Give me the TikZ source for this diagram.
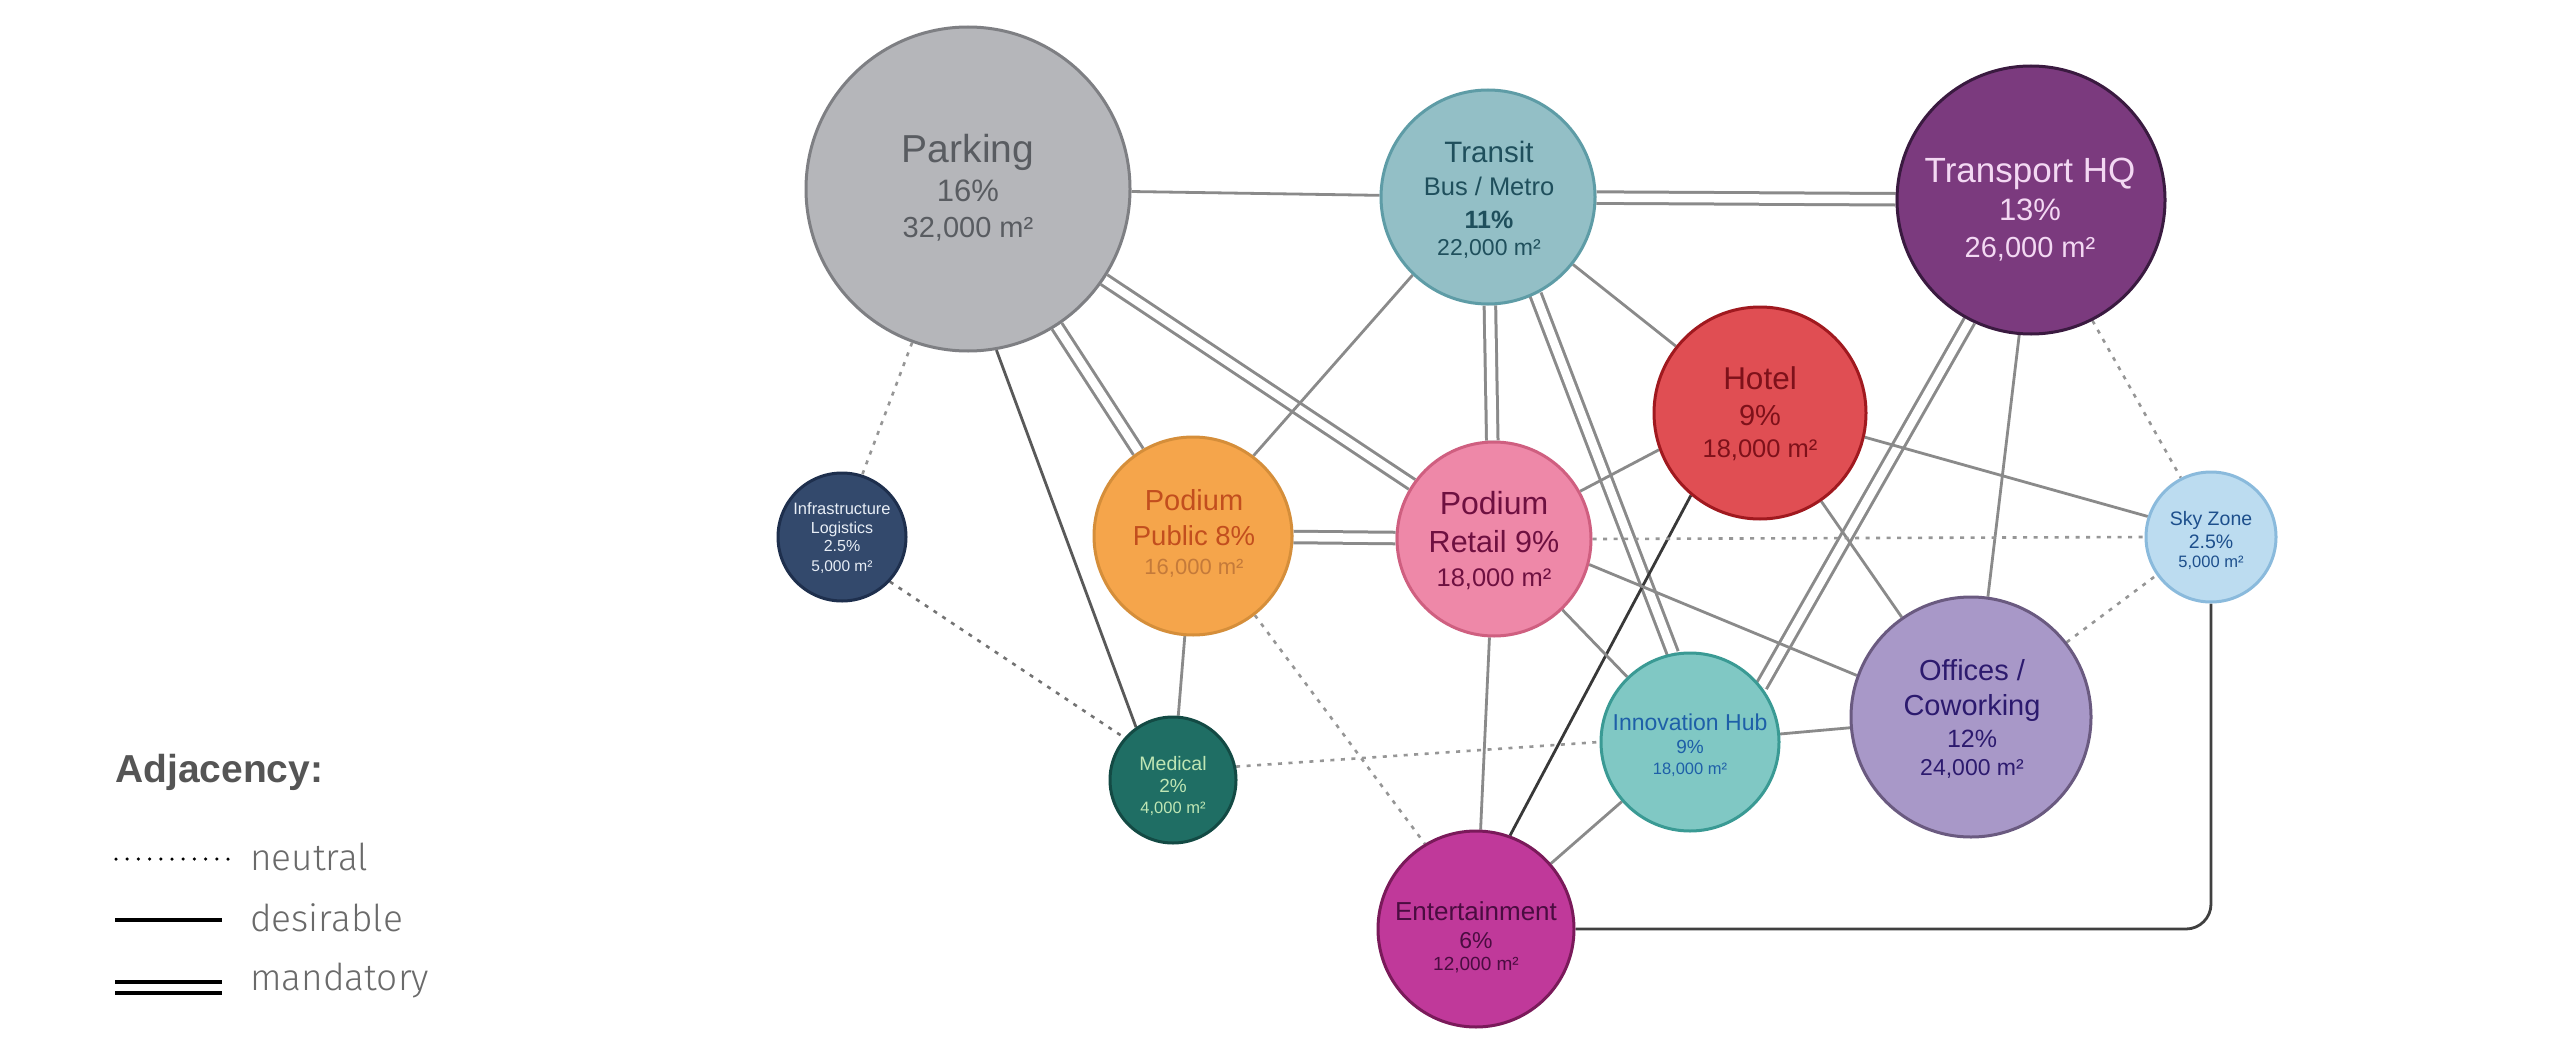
\documentclass[tikz,border=0pt]{standalone}
\usepackage{fontspec}
\setmainfont{Liberation Sans}
\newfontfamily\legfont{Fira Sans Light}
\usetikzlibrary{backgrounds}
\definecolor{parkfill}{HTML}{B5B6BA}\definecolor{parkdraw}{HTML}{7E7F83}\definecolor{parktxt}{HTML}{595C61}
\definecolor{trfill}{HTML}{93BFC6}\definecolor{trdraw}{HTML}{5E9CA6}\definecolor{trtxt}{HTML}{1F4F5C}
\definecolor{thqfill}{HTML}{7B3A7E}\definecolor{thqdraw}{HTML}{3A1A40}\definecolor{thqtxt}{HTML}{F3D8F3}
\definecolor{hotfill}{HTML}{E04E53}\definecolor{hotdraw}{HTML}{A0191F}\definecolor{hottxt}{HTML}{7E111A}
\definecolor{infill}{HTML}{33496C}\definecolor{indraw}{HTML}{1E2F4D}\definecolor{intxt}{HTML}{E8EEF6}
\definecolor{ppfill}{HTML}{F5A54B}\definecolor{ppdraw}{HTML}{D58E3A}\definecolor{pptxt}{HTML}{C24E1E}\definecolor{pptxtb}{HTML}{C47A3A}
\definecolor{prfill}{HTML}{EE88A8}\definecolor{prdraw}{HTML}{CF5F80}\definecolor{prtxt}{HTML}{6E1040}
\definecolor{medfill}{HTML}{1F6E64}\definecolor{meddraw}{HTML}{134A44}\definecolor{medtxt}{HTML}{BFE6B4}
\definecolor{entfill}{HTML}{C0399A}\definecolor{entdraw}{HTML}{7A1A5A}\definecolor{enttxt}{HTML}{4A0C40}
\definecolor{ihfill}{HTML}{80C8C4}\definecolor{ihdraw}{HTML}{3A9A94}\definecolor{ihtxt}{HTML}{1E5FA8}
\definecolor{offfill}{HTML}{A898C8}\definecolor{offdraw}{HTML}{6A5A80}\definecolor{offtxt}{HTML}{2C1A6E}
\definecolor{skyfill}{HTML}{BCDCF0}\definecolor{skydraw}{HTML}{8ABADC}\definecolor{skytxt}{HTML}{1D4F8C}
\definecolor{linegray}{HTML}{8A8A8A}\definecolor{dotgray}{HTML}{969696}
\definecolor{legtxt}{HTML}{555555}\definecolor{leglabel}{HTML}{6A6A6A}
\newcommand\ntext[6]{\node[anchor=base, inner sep=0pt, text=#5, font=\fontsize{#4}{#4}\selectfont] (#1) at (#2,#3) {#6};}
\tikzset{
  room/.style={circle, inner sep=0pt, line width=3pt, minimum size=#1},
  mand/.style={draw=linegray, line width=3pt, double=white, double distance=8.5pt},
  desir/.style={draw=linegray, line width=2.8pt},
  neut/.style={draw=dotgray, line width=2.6pt, dash pattern=on 4pt off 6.5pt},
}
\begin{document}
\begin{tikzpicture}[x=1pt,y=-1pt]
\useasboundingbox (0,0) rectangle (2560,1041);

% rooms
\node[room=324pt, fill=parkfill, draw=parkdraw] (park) at (968,189) {};
\node[room=214pt, fill=trfill, draw=trdraw] (transit) at (1488,197) {};
\node[room=268pt, fill=thqfill, draw=thqdraw] (thq) at (2031,200) {};
\node[room=212pt, fill=hotfill, draw=hotdraw] (hotel) at (1760,413) {};
\node[room=128pt, fill=infill, draw=indraw] (infra) at (842,537) {};
\node[room=198pt, fill=ppfill, draw=ppdraw] (pp) at (1193,536) {};
\node[room=194pt, fill=prfill, draw=prdraw] (pr) at (1494,539) {};
\node[room=126pt, fill=medfill, draw=meddraw] (med) at (1173,780) {};
\node[room=196pt, fill=entfill, draw=entdraw] (ent) at (1476,929) {};
\node[room=178pt, fill=ihfill, draw=ihdraw] (ih) at (1690,742) {};
\node[room=240pt, fill=offfill, draw=offdraw] (off) at (1971,717) {};
\node[room=130pt, fill=skyfill, draw=skydraw] (sky) at (2211,537) {};

% labels
\ntext{park1}{968}{162}{39}{parktxt}{Parking}
\ntext{park2}{968}{201}{31}{parktxt}{16\%}
\ntext{park3}{968}{237}{29}{parktxt}{32,000 m²}
\ntext{tr1}{1489}{162}{29.5}{trtxt}{Transit}
\ntext{tr2}{1489}{195}{25.5}{trtxt}{Bus / Metro}
\ntext{tr3}{1489}{228}{25}{trtxt}{\bfseries 11\%}
\ntext{tr4}{1489}{255}{23}{trtxt}{22,000 m²}
\ntext{thq1}{2030}{182}{35}{thqtxt}{Transport HQ}
\ntext{thq2}{2030}{220}{31}{thqtxt}{13\%}
\ntext{thq3}{2030}{257}{29}{thqtxt}{26,000 m²}
\ntext{hot1}{1760}{389}{31.5}{hottxt}{Hotel}
\ntext{hot2}{1760}{425}{29}{hottxt}{9\%}
\ntext{hot3}{1760}{457}{25.5}{hottxt}{18,000 m²}
\ntext{in1}{842}{514.5}{16.5}{intxt}{Infrastructure}
\ntext{in2}{842}{533}{16}{intxt}{Logistics}
\ntext{in3}{842}{551}{16}{intxt}{2.5\%}
\ntext{in4}{842}{571}{15.5}{intxt}{5,000 m²}
\ntext{pp1}{1194}{510}{29}{pptxt}{Podium}
\ntext{pp2}{1194}{545}{27.5}{pptxt}{Public 8\%}
\ntext{pp3}{1194}{574}{22}{pptxtb}{16,000 m²}
\ntext{pr1}{1494}{514}{32}{prtxt}{Podium}
\ntext{pr2}{1494}{552}{30.5}{prtxt}{Retail 9\%}
\ntext{pr3}{1494}{586}{25.5}{prtxt}{18,000 m²}
\ntext{med1}{1173}{770}{19.5}{medtxt}{Medical}
\ntext{med2}{1173}{792.5}{19}{medtxt}{2\%}
\ntext{med3}{1173}{813}{16.5}{medtxt}{4,000 m²}
\ntext{ent1}{1476}{920}{26}{enttxt}{Entertainment}
\ntext{ent2}{1476}{948}{23}{enttxt}{6\%}
\ntext{ent3}{1476}{970}{19}{enttxt}{12,000 m²}
\ntext{ih1}{1690}{730}{23}{ihtxt}{Innovation Hub}
\ntext{ih2}{1690}{753.5}{19}{ihtxt}{9\%}
\ntext{ih3}{1690}{774}{16.5}{ihtxt}{18,000 m²}
\ntext{off1}{1972}{680}{29}{offtxt}{Offices /}
\ntext{off2}{1972}{715}{29}{offtxt}{Coworking}
\ntext{off3}{1972}{747.5}{25}{offtxt}{12\%}
\ntext{off4}{1972}{775}{23}{offtxt}{24,000 m²}
\ntext{sky1}{2211}{525}{19.5}{skytxt}{Sky Zone}
\ntext{sky2}{2211}{548}{19.5}{skytxt}{2.5\%}
\ntext{sky3}{2211}{567.5}{16.5}{skytxt}{5,000 m²}

% connectors
\begin{scope}[on background layer]
  \fill[white] (0,0) rectangle (2560,1041);
  % mandatory
  \draw[mand] (park) -- (pp);
  \draw[mand] (park) -- (pr);
  \draw[mand] (transit) -- (thq);
  \draw[mand] (transit) -- (pr);
  \draw[mand] (transit.-64) -- (ih.101);
  \draw[mand] (pp) -- (pr);
  \draw[mand] (thq.-117) -- (ih.38);
  % desirable
  \draw[desir] (park) -- (transit);
  \draw[desir, draw=black!65] (park.-80) -- (med.125);
  \draw[desir] (transit.-134) -- (pp.53);
  \draw[desir] (transit) -- (hotel);
  \draw[desir] (pr.29) -- (hotel.200);
  \draw[desir] (hotel.-13) -- (sky.162);
  \draw[desir] (hotel) -- (off);
  \draw[desir, draw=black!78] (ent.70) -- (hotel.-130);
  \draw[desir] (thq.-95) -- (off.82);
  \draw[desir] (pr.-15) -- (off.160);
  \draw[desir] (pr) -- (ih);
  \draw[desir] (pr) -- (ent);
  \draw[desir] (pp) -- (med);
  \draw[desir] (ih) -- (off);
  \draw[desir] (ih) -- (ent);
  \draw[desir, draw=black!75, rounded corners=25pt] (sky.south) |- (ent.east);
  % neutral
  \draw[neut] (park.-110) -- (infra.72);
  \draw[neut, draw=black!55] (infra.-43) -- (med.139);
  \draw[neut] (pp.-52) -- (ent.121);
  \draw[neut] (med.12) -- (ih.180);
  \draw[neut] (pr.east) -- (sky.west);
  \draw[neut] (thq.-63) -- (sky.117);
  \draw[neut] (off.38) -- (sky.-145);
\end{scope}

% legend
\node[anchor=base west, inner sep=0pt, text=legtxt, font=\fontsize{39}{39}\selectfont\bfseries] (legtitle) at (115,782) {Adjacency:};
\coordinate (n1) at (116,859); \coordinate (n2) at (229,859);
\coordinate (d1) at (115,920); \coordinate (d2) at (222,920);
\coordinate (m1) at (115,982); \coordinate (m2) at (222,982);
\coordinate (m3) at (115,993); \coordinate (m4) at (222,993);
\draw[black, line width=3.5pt, line cap=round, dash pattern=on 0pt off 11.2pt] (n1) -- (n2);
\draw[black, line width=4pt] (d1) -- (d2);
\draw[black, line width=3.5pt] (m1) -- (m2);
\draw[black, line width=3.5pt] (m3) -- (m4);
\node[anchor=base west, inner sep=0pt, text=leglabel, font=\fontsize{37}{37}\legfont] (legn) at (250,870) {neutral};
\node[anchor=base west, inner sep=0pt, text=leglabel, font=\fontsize{37}{37}\legfont] (legd) at (250,931) {desirable};
\node[anchor=base west, inner sep=0pt, text=leglabel, font=\fontsize{37}{37}\legfont] (legm) at (250,990) {mandatory};
\end{tikzpicture}
\end{document}
